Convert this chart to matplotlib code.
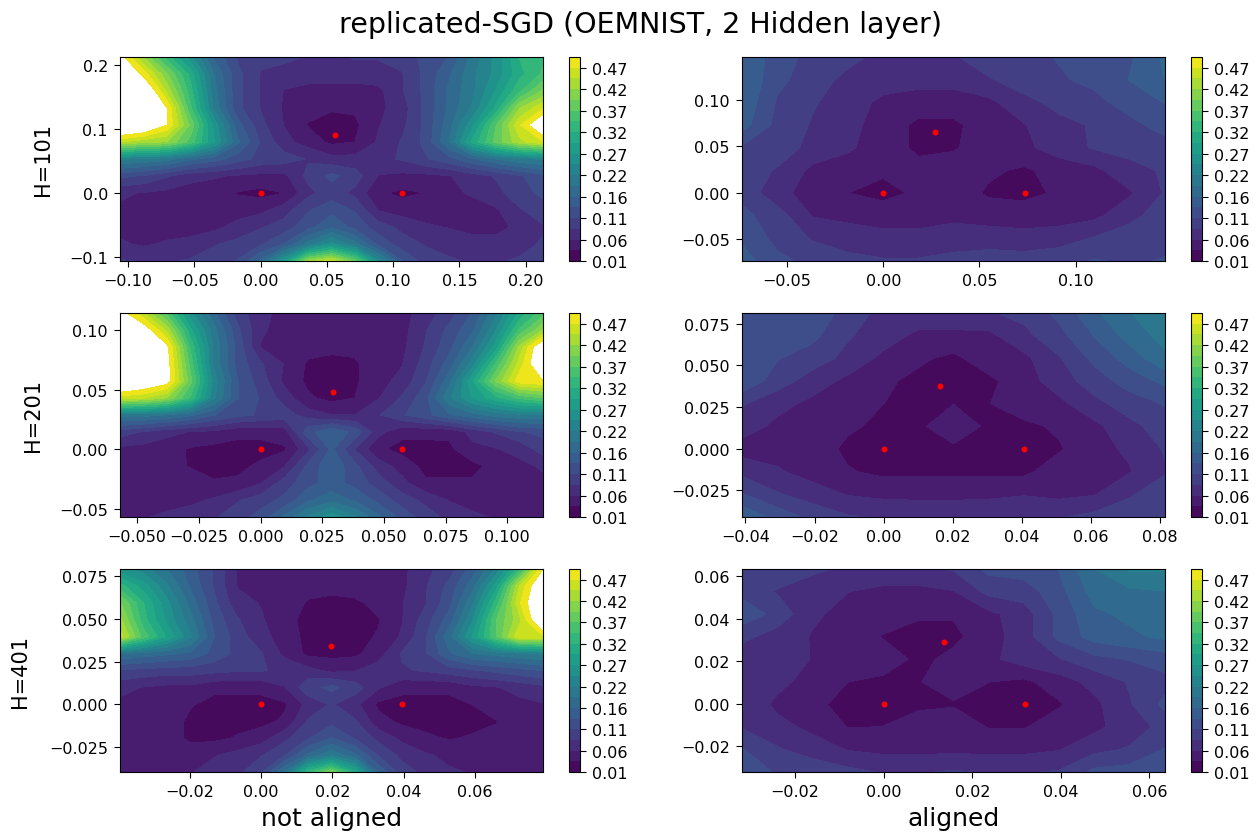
import matplotlib
matplotlib.use("Agg")
import matplotlib.pyplot as plt
import numpy as np

# loss values, rows from top to bottom of each panel
loss_101_not = [
    [.52, .42, .33, .25, .16, .11, .095, .095, .085, .08, .09, .09, .10, .12, .14, .20, .25, .32, .34],
    [.56, .49, .40, .31, .19, .12, .085, .075, .075, .075, .075, .075, .085, .12, .16, .21, .25, .31, .35],
    [.58, .56, .44, .33, .20, .12, .085, .06, .052, .05, .05, .055, .085, .12, .17, .21, .27, .34, .40],
    [.58, .56, .50, .35, .21, .12, .085, .058, .045, .038, .04, .055, .075, .12, .17, .22, .30, .42, .47],
    [.58, .56, .50, .39, .26, .15, .095, .06, .034, .028, .03, .06, .08, .12, .18, .26, .37, .47, .55],
    [.45, .43, .42, .36, .27, .17, .11, .07, .05, .03, .036, .065, .09, .12, .19, .30, .38, .44, .47],
    [.22, .21, .20, .17, .15, .125, .105, .10, .085, .07, .07, .08, .09, .11, .13, .16, .19, .21, .22],
    [.12, .11, .09, .07, .065, .058, .055, .055, .095, .12, .10, .06, .055, .055, .06, .075, .09, .11, .13],
    [.065, .06, .055, .05, .045, .034, .028, .036, .08, .10, .08, .04, .03, .036, .055, .065, .08, .10, .12],
    [.058, .05, .05, .05, .05, .05, .055, .075, .11, .13, .11, .06, .05, .05, .05, .05, .058, .085, .10],
    [.055, .05, .05, .05, .055, .07, .085, .10, .13, .16, .13, .10, .08, .065, .06, .05, .05, .07, .085],
    [.065, .058, .065, .07, .085, .095, .11, .14, .20, .25, .20, .13, .10, .085, .08, .075, .075, .08, .09],
    [.09, .085, .085, .09, .10, .115, .17, .27, .42, .46, .38, .24, .14, .10, .09, .085, .085, .09, .10],
]
loss_201_not = [
    [.52, .45, .36, .25, .17, .10, .07, .052, .052, .052, .052, .052, .052, .075, .10, .14, .21, .30, .36],
    [.56, .53, .44, .30, .20, .12, .065, .052, .052, .052, .052, .052, .052, .085, .12, .16, .24, .35, .42],
    [.58, .57, .51, .34, .21, .13, .06, .052, .045, .042, .042, .052, .055, .09, .13, .19, .28, .43, .55],
    [.58, .57, .52, .36, .21, .13, .09, .06, .032, .028, .032, .052, .06, .10, .15, .23, .35, .46, .55],
    [.58, .55, .52, .38, .23, .14, .10, .055, .03, .028, .032, .052, .07, .11, .18, .29, .40, .49, .50],
    [.46, .45, .42, .34, .22, .14, .11, .075, .04, .028, .036, .06, .09, .13, .21, .27, .31, .35, .37],
    [.20, .20, .19, .17, .14, .12, .11, .10, .075, .062, .062, .085, .11, .13, .16, .18, .20, .21, .21],
    [.10, .085, .07, .06, .055, .042, .042, .05, .13, .16, .13, .07, .042, .042, .042, .07, .09, .11, .12],
    [.055, .052, .045, .033, .028, .028, .028, .032, .08, .145, .085, .04, .028, .028, .03, .055, .06, .07, .10],
    [.055, .05, .045, .034, .028, .03, .04, .06, .12, .16, .12, .075, .05, .028, .028, .028, .045, .055, .065],
    [.055, .05, .05, .05, .038, .04, .06, .10, .13, .15, .13, .10, .07, .04, .04, .04, .05, .05, .055],
    [.055, .055, .055, .055, .065, .085, .10, .12, .16, .18, .16, .13, .10, .08, .06, .055, .05, .05, .055],
    [.06, .06, .065, .075, .085, .10, .125, .17, .22, .26, .22, .17, .13, .10, .08, .065, .06, .055, .06],
]
loss_401_not = [
    [.25, .23, .19, .15, .11, .058, .055, .055, .055, .055, .055, .055, .055, .08, .10, .15, .22, .33, .50],
    [.33, .28, .22, .16, .11, .06, .055, .055, .05, .045, .05, .055, .055, .085, .12, .18, .28, .45, .55],
    [.40, .32, .25, .18, .12, .07, .06, .058, .032, .028, .03, .045, .06, .085, .13, .21, .33, .47, .56],
    [.43, .33, .26, .20, .13, .09, .065, .042, .03, .028, .028, .034, .06, .10, .15, .24, .37, .44, .56],
    [.46, .36, .29, .22, .14, .10, .07, .05, .028, .028, .028, .038, .065, .11, .18, .27, .37, .47, .47],
    [.19, .18, .17, .16, .13, .105, .09, .055, .03, .028, .03, .05, .09, .11, .16, .19, .20, .21, .22],
    [.11, .105, .10, .10, .095, .09, .09, .08, .07, .055, .06, .075, .085, .09, .10, .11, .12, .13, .14],
    [.07, .06, .055, .055, .042, .042, .042, .06, .105, .12, .10, .065, .042, .042, .042, .055, .06, .07, .08],
    [.055, .05, .05, .038, .028, .028, .028, .032, .07, .09, .07, .03, .028, .028, .028, .036, .055, .055, .06],
    [.05, .05, .05, .03, .028, .028, .028, .04, .09, .105, .09, .045, .03, .028, .028, .03, .034, .05, .055],
    [.05, .05, .05, .03, .03, .038, .05, .08, .11, .14, .11, .08, .055, .04, .034, .038, .045, .05, .055],
    [.055, .055, .05, .05, .06, .07, .085, .11, .17, .21, .17, .11, .08, .065, .055, .05, .055, .055, .06],
    [.055, .055, .055, .06, .07, .08, .11, .19, .33, .40, .30, .16, .10, .08, .065, .06, .055, .055, .055],
]
loss_101_al = [
    [.165, .125, .105, .095, .08, .075, .085, .10, .105, .115, .125, .135, .17],
    [.165, .12, .10, .08, .075, .07, .07, .085, .10, .11, .12, .14, .165],
    [.16, .11, .09, .075, .055, .05, .05, .055, .08, .095, .105, .125, .14],
    [.15, .105, .085, .07, .05, .03, .03, .05, .06, .08, .09, .105, .125],
    [.11, .10, .08, .065, .05, .03, .033, .05, .055, .075, .09, .095, .10],
    [.10, .085, .055, .05, .04, .045, .05, .04, .032, .045, .055, .08, .09],
    [.105, .07, .05, .036, .028, .04, .05, .032, .028, .04, .05, .058, .09],
    [.12, .10, .06, .055, .05, .05, .055, .05, .05, .05, .055, .08, .10],
    [.135, .105, .085, .075, .07, .07, .075, .075, .07, .075, .09, .10, .105],
    [.15, .12, .105, .095, .09, .09, .095, .10, .10, .105, .115, .11, .115],
]
loss_201_al = [
    [.14, .135, .135, .10, .08, .08, .08, .085, .095, .12, .16, .19, .20],
    [.125, .125, .12, .09, .075, .055, .055, .055, .08, .105, .14, .175, .20],
    [.135, .115, .10, .08, .055, .04, .03, .05, .055, .085, .12, .15, .185],
    [.135, .10, .075, .055, .04, .03, .03, .03, .05, .075, .10, .125, .145],
    [.09, .07, .055, .05, .036, .03, .035, .035, .05, .055, .08, .10, .115],
    [.075, .055, .05, .04, .03, .03, .055, .03, .03, .04, .055, .08, .10],
    [.05, .05, .05, .03, .03, .03, .03, .03, .03, .033, .055, .065, .09],
    [.08, .065, .05, .038, .03, .03, .03, .03, .03, .05, .055, .06, .085],
    [.115, .09, .075, .06, .055, .055, .055, .055, .06, .055, .06, .085, .10],
    [.16, .13, .105, .09, .085, .08, .08, .085, .085, .085, .095, .10, .105],
]
loss_401_al = [
    [.105, .105, .09, .085, .08, .08, .09, .12, .125, .14, .19, .22, .22],
    [.105, .085, .08, .062, .055, .055, .06, .095, .10, .13, .175, .185, .19],
    [.13, .105, .065, .055, .05, .038, .038, .055, .075, .12, .16, .17, .165],
    [.095, .075, .06, .05, .034, .03, .03, .05, .075, .12, .15, .16, .17],
    [.07, .08, .06, .05, .05, .03, .042, .055, .075, .085, .105, .115, .125],
    [.075, .07, .05, .036, .03, .034, .05, .036, .03, .05, .07, .09, .105],
    [.085, .055, .04, .03, .03, .03, .033, .03, .03, .033, .055, .085, .12],
    [.085, .07, .055, .035, .036, .05, .055, .034, .034, .05, .055, .075, .095],
    [.115, .09, .075, .06, .055, .055, .055, .055, .055, .06, .08, .09, .115],
    [.13, .11, .105, .095, .085, .085, .09, .085, .085, .09, .12, .125, .13],
]

# axis limits of each panel: xmin, xmax, ymin, ymax
limits_101_not = (-0.106, 0.213, -0.106, 0.2125)
limits_201_not = (-0.057, 0.1145, -0.057, 0.1145)
limits_401_not = (-0.0395, 0.079, -0.0395, 0.079)
limits_101_al = (-0.0735, 0.1465, -0.0735, 0.1465)
limits_201_al = (-0.041, 0.0815, -0.041, 0.0815)
limits_401_al = (-0.032, 0.0635, -0.032, 0.0635)

# the three replicas (red dots)
dots_x_101_not = [0.0, 0.107, 0.056]
dots_y_101_not = [0.0, 0.0, 0.091]
dots_x_201_not = [0.0, 0.0574, 0.0295]
dots_y_201_not = [0.0, 0.0, 0.048]
dots_x_401_not = [0.0, 0.0395, 0.0197]
dots_y_401_not = [0.0, 0.0, 0.034]
dots_x_101_al = [0.0, 0.0735, 0.0268]
dots_y_101_al = [0.0, 0.0, 0.066]
dots_x_201_al = [0.0, 0.0407, 0.0163]
dots_y_201_al = [0.0, 0.0, 0.0375]
dots_x_401_al = [0.0, 0.0318, 0.0135]
dots_y_401_al = [0.0, 0.0, 0.029]

xticks_101_not = [-0.10, -0.05, 0.0, 0.05, 0.10, 0.15, 0.20]
yticks_101_not = [-0.1, 0.0, 0.1, 0.2]
xticks_201_not = [-0.05, -0.025, 0.0, 0.025, 0.05, 0.075, 0.1]
yticks_201_not = [-0.05, 0.0, 0.05, 0.1]
xticks_401_not = [-0.02, 0.0, 0.02, 0.04, 0.06]
yticks_401_not = [-0.025, 0.0, 0.025, 0.05, 0.075]
xticks_101_al = [-0.05, 0.0, 0.05, 0.10]
yticks_101_al = [-0.05, 0.0, 0.05, 0.10]
xticks_201_al = [-0.04, -0.02, 0.0, 0.02, 0.04, 0.06, 0.08]
yticks_201_al = [-0.025, 0.0, 0.025, 0.05, 0.075]
xticks_401_al = [-0.02, 0.0, 0.02, 0.04, 0.06]
yticks_401_al = [-0.02, 0.0, 0.02, 0.04, 0.06]

W, H = 1260, 837
fig = plt.figure(figsize=(W / 100, H / 100), dpi=100)
levels = np.linspace(0.01, 0.5, 20)


def box(left, top, right, bottom):
    # pixel box to figure fractions
    return [left / W, 1 - bottom / H, (right - left) / W, (bottom - top) / H]


def panel(rect, cbar_x, z, lim, dx, dy, xticks, yticks):
    ax = fig.add_axes(box(*rect))
    z = np.array(z)
    xs = np.linspace(lim[0], lim[1], z.shape[1])
    ys = np.linspace(lim[3], lim[2], z.shape[0])
    cs = ax.contourf(xs, ys, z, levels=levels, cmap="viridis")
    ax.plot(dx, dy, "o", color="red", ms=4.3, mew=0)
    ax.set_xlim(lim[0], lim[1])
    ax.set_ylim(lim[2], lim[3])
    ax.set_xticks(xticks)
    ax.set_yticks(yticks)
    ax.tick_params(labelsize=11.5, length=4.5, pad=4.2)
    cax = fig.add_axes(box(cbar_x, rect[1], cbar_x + 11, rect[3]))
    cb = fig.colorbar(cs, cax=cax, ticks=levels[::2], format="%.2f")
    cb.ax.tick_params(labelsize=11.5, length=4.5, pad=4.2)
    return ax


def hlabel(ax, text, right_px, rect):
    # label position given by its right edge in pixels
    ax.set_ylabel(text, fontsize=15)
    ax.yaxis.set_label_coords((right_px - rect[0]) / (rect[2] - rect[0]), 0.5)


row1 = (58, 262)
row2 = (314, 518)
row3 = (570, 773)
col1 = (120, 543)
col2 = (742, 1165)

r = (col1[0], row1[0], col1[1], row1[1])
a = panel(r, 569, loss_101_not, limits_101_not,
          dots_x_101_not, dots_y_101_not, xticks_101_not, yticks_101_not)
hlabel(a, "H=101", 53, r)
r = (col1[0], row2[0], col1[1], row2[1])
b = panel(r, 569, loss_201_not, limits_201_not,
          dots_x_201_not, dots_y_201_not, xticks_201_not, yticks_201_not)
hlabel(b, "H=201", 43, r)
r = (col1[0], row3[0], col1[1], row3[1])
c = panel(r, 569, loss_401_not, limits_401_not,
          dots_x_401_not, dots_y_401_not, xticks_401_not, yticks_401_not)
hlabel(c, "H=401", 30, r)
c.set_xlabel("not aligned", fontsize=18, labelpad=5)

panel((col2[0], row1[0], col2[1], row1[1]), 1191, loss_101_al, limits_101_al,
      dots_x_101_al, dots_y_101_al, xticks_101_al, yticks_101_al)
panel((col2[0], row2[0], col2[1], row2[1]), 1191, loss_201_al, limits_201_al,
      dots_x_201_al, dots_y_201_al, xticks_201_al, yticks_201_al)
d = panel((col2[0], row3[0], col2[1], row3[1]), 1191, loss_401_al, limits_401_al,
          dots_x_401_al, dots_y_401_al, xticks_401_al, yticks_401_al)
d.set_xlabel("aligned", fontsize=18, labelpad=5)

fig.suptitle("replicated-SGD (OEMNIST, 2 Hidden layer)", fontsize=20.5, x=0.508, y=0.987)

plt.savefig("out.png", dpi=100)
